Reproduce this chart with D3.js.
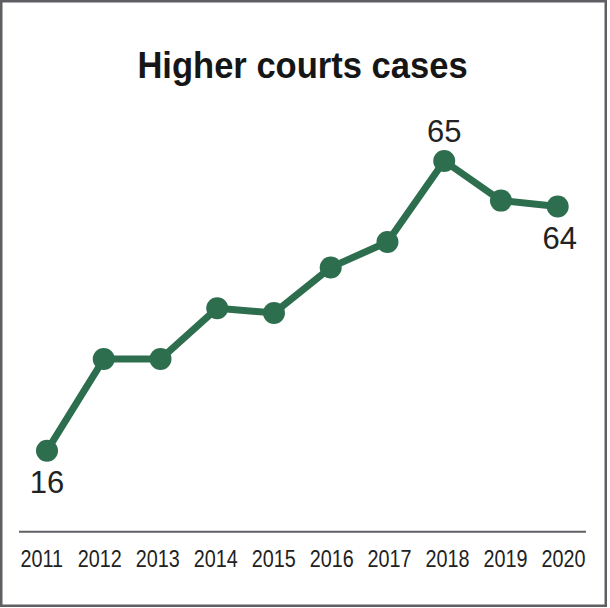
<!DOCTYPE html>
<html>
<head>
<meta charset="utf-8">
<script src="https://cdn.jsdelivr.net/npm/d3@7"></script>
<style>
  html, body { margin: 0; padding: 0; background: #fff; }
  svg { display: block; }
</style>
</head>
<body>
<svg id="chart" width="610" height="608"></svg>
<script>
const years = [2011, 2012, 2013, 2014, 2015, 2016, 2017, 2018, 2019, 2020];
const cases = [16, 31.5, 31.5, 40.1, 39.3, 47.0, 51.3, 65, 58.3, 57.3];
const tickLabels = ["2011","2012","2013","2014","2015","2016","2017","2018","2019","2020"];
const annotYears = [2011, 2018, 2020];
const annotText = ["16", "65", "64"];
const annotPos = ["below", "above", "below"];
const title = "Higher courts cases";

const svg = d3.select("#chart");
const green = "#2d6e4f";

// frame
svg.append("rect").attr("x", 1.25).attr("y", 1.25).attr("width", 604.5).attr("height", 604.5)
  .attr("fill", "#fff").attr("stroke", "#5f5f63").attr("stroke-width", 2.5);

// title
svg.append("text")
  .attr("transform", "translate(302.5,77.5) scale(0.96,1)")
  .attr("text-anchor", "middle")
  .attr("font-family", "Liberation Sans, Arial, sans-serif")
  .attr("font-weight", "bold")
  .attr("font-size", 36)
  .attr("fill", "#161616")
  .text(title);

const x = d3.scaleLinear().domain([2011, 2020]).range([47, 557.7]);
const xAxisScale = d3.scaleLinear().domain([2011, 2020]).range([41.3, 563]);
const y = d3.scaleLinear().domain([16, 65]).range([450.7, 161]);

// baseline
svg.append("line").attr("x1", 19).attr("x2", 586).attr("y1", 531.7).attr("y2", 531.7)
  .attr("stroke", "#616166").attr("stroke-width", 2);

// axis labels
const axis = d3.axisBottom(xAxisScale).tickValues(years).tickSize(0).tickFormat((d, i) => tickLabels[i]);
const ag = svg.append("g").call(axis);
ag.select(".domain").remove();
ag.selectAll(".tick text")
  .attr("y", 567.3).attr("dy", null)
  .attr("font-family", "Liberation Sans, Arial, sans-serif")
  .attr("font-size", 23)
  .attr("fill", "#222")
  .attr("text-anchor", "middle")
  .attr("transform", "scale(0.86,1)");

// line
const line = d3.line().x((d, i) => x(years[i])).y(d => y(d));
svg.append("path").datum(cases)
  .attr("d", line)
  .attr("fill", "none")
  .attr("stroke", green)
  .attr("stroke-width", 7)
  .attr("stroke-linejoin", "round");

svg.selectAll("circle.pt").data(cases).enter().append("circle")
  .attr("class", "pt")
  .attr("cx", (d, i) => x(years[i]))
  .attr("cy", d => y(d))
  .attr("r", 11)
  .attr("fill", green);

// annotations
annotYears.forEach((yr, k) => {
  const idx = years.indexOf(yr);
  const px = x(yr);
  const py = y(cases[idx]);
  svg.append("text")
    .attr("x", px + (k === 2 ? 2 : 0))
    .attr("y", annotPos[k] === "above" ? py - 19.5 : py + 42.6)
    .attr("text-anchor", "middle")
    .attr("font-family", "Liberation Sans, Arial, sans-serif")
    .attr("font-size", 31)
    .attr("fill", "#222")
    .text(annotText[k]);
});
</script>
</body>
</html>
